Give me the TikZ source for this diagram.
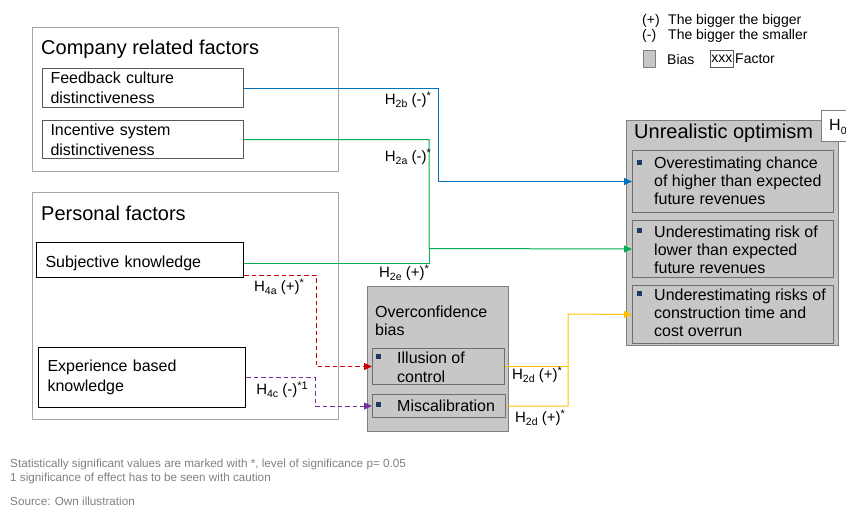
\documentclass[tikz,border=0pt]{standalone}
\usepackage{fontspec}
\setmainfont{Liberation Sans}
\usetikzlibrary{arrows.meta}

\definecolor{linkblue}{RGB}{0,112,192}
\definecolor{linkgreen}{RGB}{0,176,80}
\definecolor{linkred}{RGB}{204,0,0}
\definecolor{linkpurple}{RGB}{112,48,160}
\definecolor{linkyellow}{RGB}{255,192,0}
\definecolor{biasfill}{RGB}{199,199,199}
\definecolor{biasedge}{RGB}{128,128,128}
\definecolor{itemedge}{RGB}{110,110,110}
\definecolor{groupedge}{RGB}{166,166,166}
\definecolor{factoredge}{RGB}{89,89,89}
\definecolor{bulletblue}{RGB}{31,56,100}
\definecolor{notegray}{RGB}{128,128,128}

\newcommand{\fsz}[2]{\fontsize{#1}{#2}\selectfont}
% hypothesis index and significance mark
\newcommand{\hidx}[1]{\raisebox{-0.22em}{\fsz{10.5}{11}#1}}
\newcommand{\hsig}[1]{\raisebox{0.3em}{\fsz{11}{11}#1}}

\tikzset{
  groupbox/.style={draw=groupedge, line width=1pt, anchor=north west, inner sep=0pt},
  grouptitle/.style={anchor=west, inner sep=0pt, font=\fsz{20}{24}},
  factorbox/.style={draw=factoredge, fill=white, line width=1pt, anchor=north west,
    align=left, inner ysep=0pt, font=\fsz{16}{20}},
  biasbox/.style={draw=biasedge, fill=biasfill, line width=1pt, anchor=north west, inner sep=0pt},
  itembox/.style={draw=itemedge, fill=biasfill, line width=1pt, anchor=north west, inner sep=0pt},
  itemtext/.style={anchor=west, align=left, inner sep=0pt, font=\fsz{16}{18}},
  hlabel/.style={inner sep=0pt, font=\fsz{15}{17}},
  legendtext/.style={inner sep=0pt, anchor=west, font=\fsz{14}{16}},
  note/.style={anchor=west, inner sep=0pt, text=notegray, font=\fsz{11.7}{14}},
  bullet/.style={fill=bulletblue},
  link/.style={line width=1pt, -{Triangle[length=8pt,width=7pt]}},
  joinline/.style={line width=1pt},
  dashedlink/.style={dash pattern=on 4.5pt off 3pt}
}

\begin{document}
\begin{tikzpicture}[x=1pt,y=-1pt]
\useasboundingbox (0,0) rectangle (846,506);

% factor groups
\node[groupbox, minimum width=306pt, minimum height=144pt] (company) at (32,27) {};
\node[grouptitle] (companytitle) at (41,49) {Company related factors};
\node[groupbox, minimum width=306pt, minimum height=227pt] (personal) at (32,192) {};
\node[grouptitle] (personaltitle) at (41,213) {Personal factors};

% factors
\node[factorbox, text width=185pt, inner xsep=8pt, minimum height=39pt] (feedback) at (42,68)
  {Feedback culture\\distinctiveness};
\node[factorbox, text width=185pt, inner xsep=8pt, minimum height=38pt] (incentive) at (42,120)
  {Incentive system\\distinctiveness};
\node[factorbox, draw=black, text width=189pt, inner xsep=9pt, minimum height=35pt,
  text height=19pt] (subj) at (36,242) {Subjective knowledge};
\node[factorbox, draw=black, text width=189pt, inner xsep=9pt, minimum height=60pt] (exp) at (38,347)
  {Experience based\\knowledge};

% overconfidence bias
\node[biasbox, minimum width=141pt, minimum height=145pt] (overconf) at (367,286) {};
\node[itemtext] (overconftitle) at (375,321) {Overconfidence\\bias};
\node[itembox, minimum width=132pt, minimum height=36pt] (illusion) at (372,348) {};
\node[itemtext, font=\fsz{16}{19}] (illusiontext) at (397,367.5) {Illusion of\\control};
\node[itembox, minimum width=133pt, minimum height=23pt] (misc) at (372,394) {};
\node[itemtext] (misctext) at (397,406) {Miscalibration};
\fill[bullet] (376,354) rectangle (381,359);
\fill[bullet] (376,402) rectangle (381,407);

% unrealistic optimism
\node[biasbox, minimum width=212pt, minimum height=225pt] (optimism) at (626,120) {};
\node[grouptitle] (optimismtitle) at (634,133) {Unrealistic optimism};
\node[itembox, minimum width=201pt, minimum height=62pt] (over) at (632,150) {};
\node[itemtext] (overtext) at (654,181)
  {Overestimating chance\\of higher than expected\\future revenues};
\node[itembox, minimum width=201pt, minimum height=57pt] (under) at (632,220) {};
\node[itemtext] (undertext) at (654,249.5)
  {Underestimating risk of\\lower than expected\\future revenues};
\node[itembox, minimum width=201pt, minimum height=58pt] (risk) at (632,285) {};
\node[itemtext] (risktext) at (654,313)
  {Underestimating risks of\\construction time and\\cost overrun};
\fill[bullet] (637,160) rectangle (642,165);
\fill[bullet] (637,228) rectangle (642,233);
\fill[bullet] (637,291) rectangle (642,296);

% hypothesis tag
\node[draw=biasedge, fill=white, line width=1pt, anchor=north west, minimum width=32pt,
  minimum height=31pt, inner sep=0pt] (hzero) at (821,110) {};
\node[inner sep=0pt, anchor=west, font=\fsz{16}{18}] (hzerotext) at (829,127) {H\hidx{0}};

% connectors
\coordinate (greenturn) at (429,248.5);
\coordinate (yellowturn) at (568,314);
\draw[link, linkblue] (feedback.east) -- ++(194,0) |- (over.west);
\draw[link, linkgreen] (incentive.east) -| (greenturn) -- (under.west);
\draw[joinline, linkgreen] ([yshift=-3.5pt]subj.east) -| (greenturn);
\draw[link, dashedlink, linkred] ([yshift=3pt]subj.south east) -- ++(72,0) |- (illusion.west);
\draw[link, dashedlink, linkpurple] (exp.east) -- ++(69,0) |- (misc.west);
\draw[joinline, linkyellow] (illusion.east) -- (illusion.east -| yellowturn);
\draw[link, linkyellow] (misc.east) -| (yellowturn) -- (risk.west);

% connector labels
\node[hlabel, anchor=east] (h2b) at (431,100) {H\hidx{2b} (-)\hsig{*}};
\node[hlabel, anchor=east] (h2a) at (431,157) {H\hidx{2a} (-)\hsig{*}};
\node[hlabel] (h2e) at (404,273) {H\hidx{2e} (+)\hsig{*}};
\node[hlabel] (h4a) at (279,287) {H\hidx{4a} (+)\hsig{*}};
\node[hlabel] (h4c) at (282,390) {H\hidx{4c} (-)\hsig{*1}};
\node[hlabel] (h2dup) at (537,375) {H\hidx{2d} (+)\hsig{*}};
\node[hlabel] (h2dlow) at (540,418) {H\hidx{2d} (+)\hsig{*}};

% legend
\node[legendtext] (plus) at (642,21) {(+)};
\node[legendtext] (plustext) at (668,21) {The bigger the bigger};
\node[legendtext] (minus) at (642,36) {(-)};
\node[legendtext] (minustext) at (668,36) {The bigger the smaller};
\node[biasbox, minimum width=12pt, minimum height=17pt] (legendbias) at (643,50) {};
\node[legendtext] (legendbiastext) at (667,59) {Bias};
\node[draw=factoredge, line width=0.8pt, anchor=north west, minimum width=23pt,
  minimum height=17pt, inner sep=0pt, font=\fsz{14}{16}] (legendfactor) at (710,50) {xxx};
\node[legendtext] (legendfactortext) at (735,59) {Factor};

% notes
\node[note] (note1) at (10,464)
  {Statistically significant values are marked with *, level of significance p= 0.05};
\node[note] (note2) at (10,478) {1 significance of effect has to be seen with caution};
\node[note] (source) at (10,501) {Source: Own illustration};
\end{tikzpicture}
\end{document}
